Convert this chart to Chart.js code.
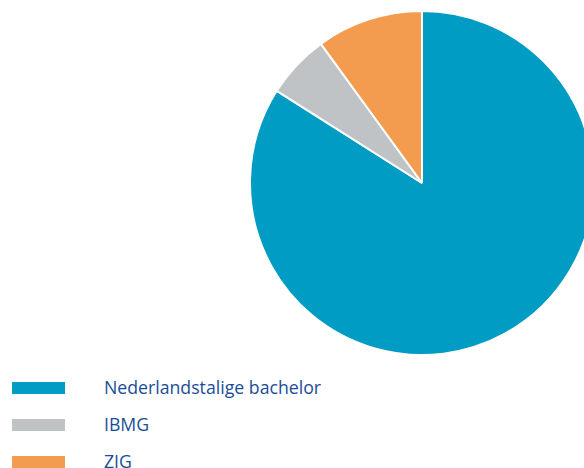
<!DOCTYPE html>
<html>
<head>
<meta charset="utf-8">
<script src="https://cdn.jsdelivr.net/npm/chart.js@4/dist/chart.umd.min.js"></script>
<style>
  html, body { margin: 0; padding: 0; width: 584px; height: 468px; overflow: hidden; background: #fff; }
  #pieWrap { position: absolute; left: 249px; top: 10px; width: 346px; height: 346px; }
  #legend { position: absolute; left: 0; top: 374px; font-family: "Open Sans", sans-serif; font-size: 17.7px; color: #1a4d97; }
  .item { position: absolute; left: 0; height: 37px; white-space: nowrap; }
  .box { position: absolute; left: 12px; top: 8px; width: 53px; height: 12px; }
  .label { position: absolute; left: 104px; top: -1px; line-height: 28px; }
</style>
</head>
<body>
<div id="pieWrap"><canvas id="chartPie"></canvas></div>
<div id="legend"></div>
<script>
const labels = ["Nederlandstalige bachelor", "IBMG", "ZIG"];
const values = [84, 6, 10];
const colors = ["#009cc4", "#bfc3c6", "#f39c50"];

const chartPie = new Chart(document.getElementById("chartPie"), {
  type: "pie",
  data: {
    labels: labels,
    datasets: [{ data: values, backgroundColor: colors, borderColor: "#fff", borderWidth: 2 }]
  },
  options: {
    plugins: { legend: { display: false }, tooltip: { enabled: false } },
    responsive: true,
    maintainAspectRatio: false,
    animation: false,
    layout: { padding: 0 }
  }
});

// legend as html, built from the same arrays
const legend = document.getElementById("legend");
labels.forEach((label, i) => {
  const item = document.createElement("div");
  item.className = "item";
  item.style.top = (i * 37) + "px";
  item.innerHTML = '<div class="box" style="background:' + colors[i] + '"></div><div class="label"></div>';
  item.querySelector(".label").textContent = label;
  legend.appendChild(item);
});
</script>
</body>
</html>
